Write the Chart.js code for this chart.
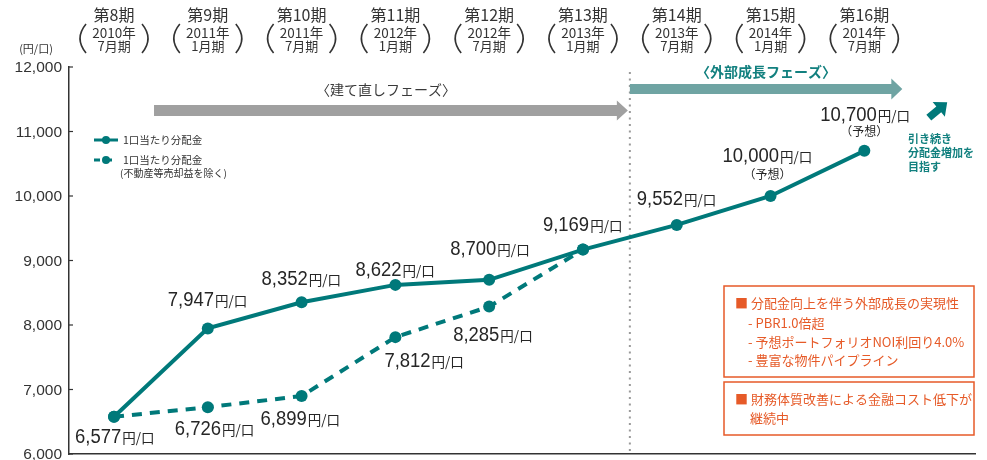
<!DOCTYPE html>
<html>
<head>
<meta charset="utf-8">
<script src="https://cdn.jsdelivr.net/npm/chart.js@4"></script>
<style>
html,body{margin:0;padding:0;background:#fff;}
#wrap{width:987px;height:460px;position:relative;}
</style>
</head>
<body>
<div id="wrap"><canvas id="c" width="987" height="460"></canvas></div>
<script>
// ---- data ----
const periods = ['第8期','第9期','第10期','第11期','第12期','第13期','第14期','第15期','第16期'];
const fiscalYears = ['2010年','2011年','2011年','2012年','2012年','2013年','2013年','2014年','2014年'];
const fiscalMonths = ['7月期','1月期','7月期','1月期','7月期','1月期','7月期','1月期','7月期'];
const dpu = [6577, 7947, 8352, 8622, 8700, 9169, 9552, 10000, 10700];
const dpuExSales = [6577, 6726, 6899, 7812, 8285, 9169];
const isForecast = [false, false, false, false, false, false, false, true, true];
const yTickValues = [6000, 7000, 8000, 9000, 10000, 11000, 12000];
const seriesNames = ['1口当たり分配金', '1口当たり分配金'];
const seriesNote = '(不動産等売却益を除く)';
const phaseNames = ['〈建て直しフェーズ〉', '〈外部成長フェーズ〉'];
const goalLines = ['引き続き', '分配金増加を', '目指す'];
const box1Lines = ['■ 分配金向上を伴う外部成長の実現性', '- PBR1.0倍超', '- 予想ポートフォリオNOI利回り4.0%', '- 豊富な物件パイプライン'];
const box2Lines = ['■ 財務体質改善による金融コスト低下が', '継続中'];
const unitText = '円/口';
const forecastText = '（予想）';
const yUnit = '(円/口)';

// ---- styles / placement ----
const TEAL = '#00797a';
const TEAL_LIGHT = '#6fa4a3';
const TEAL_TEXT = '#12807f';
const GRAY_ARROW = '#a0a0a0';
const TXT = '#333333';
const ORANGE = '#e65a28';
const NUMFONT = '"Liberation Sans", Arial, sans-serif';
const JPFONT = '"Noto Sans CJK JP", sans-serif';
const solidOff = [[-39,26],[-40,-22],[-40,-17],[-40,-9],[-39,-25],[-40,-19],[-40,-20],[-48,-34],[-44,-30]];
const dashOff = [null,[-33,28],[-41,29],[-11,30],[-36,34],null];
const fcOff = {7:[-3,-22], 8:[0,-19]};

function fmt(v){ return v.toLocaleString('en-US'); }

function drawValue(ctx, x, y, v){
  ctx.save();
  ctx.fillStyle = '#262626';
  ctx.textAlign = 'left';
  ctx.textBaseline = 'alphabetic';
  ctx.font = '20.5px ' + NUMFONT;
  const s = fmt(v);
  const w = ctx.measureText(s).width * 0.9;
  ctx.translate(x, y);
  ctx.scale(0.9, 1);
  ctx.fillText(s, 0, 0);
  ctx.restore();
  ctx.save();
  ctx.fillStyle = '#262626';
  ctx.font = '13.5px ' + JPFONT;
  ctx.textAlign = 'left';
  ctx.textBaseline = 'alphabetic';
  ctx.fillText(unitText, x + w + 1, y);
  ctx.restore();
}

function arrow(ctx, x0, x1, cy, barH, headH, headL, color){
  ctx.save();
  ctx.fillStyle = color;
  ctx.beginPath();
  ctx.moveTo(x0, cy - barH/2);
  ctx.lineTo(x1 - headL, cy - barH/2);
  ctx.lineTo(x1 - headL, cy - headH/2);
  ctx.lineTo(x1, cy);
  ctx.lineTo(x1 - headL, cy + headH/2);
  ctx.lineTo(x1 - headL, cy + barH/2);
  ctx.lineTo(x0, cy + barH/2);
  ctx.closePath();
  ctx.fill();
  ctx.restore();
}

const overlay = {
  id: 'overlay',
  beforeDatasetsDraw(chart){
    const ctx = chart.ctx, xs = chart.scales.x, ys = chart.scales.y;
    const area = chart.chartArea;
    const divX = xs.getPixelForValue(5.5);
    ctx.save();
    ctx.strokeStyle = '#9a9a9a';
    ctx.lineWidth = 2;
    ctx.setLineDash([2, 4.5]);
    ctx.beginPath();
    ctx.moveTo(divX, 72);
    ctx.lineTo(divX, area.bottom);
    ctx.stroke();
    ctx.restore();
    ctx.save();
    ctx.strokeStyle = TXT;
    ctx.lineWidth = 1.2;
    ctx.fillStyle = TXT;
    ctx.font = '15.5px ' + NUMFONT;
    ctx.textAlign = 'right';
    ctx.textBaseline = 'middle';
    yTickValues.forEach(v => {
      const y = ys.getPixelForValue(v);
      ctx.beginPath();
      ctx.moveTo(area.left, y);
      ctx.lineTo(area.left + 4, y);
      ctx.stroke();
      ctx.fillText(fmt(v), area.left - 7, y + 1);
    });
    ctx.restore();
  },
  afterDraw(chart){
    const ctx = chart.ctx, xs = chart.scales.x, ys = chart.scales.y;
    const divX = xs.getPixelForValue(5.5);

    periods.forEach((p, i) => {
      const cx = xs.getPixelForValue(i);
      ctx.save();
      ctx.fillStyle = TXT;
      ctx.textAlign = 'center';
      ctx.textBaseline = 'middle';
      ctx.font = '16px ' + JPFONT;
      ctx.fillText(p, cx, 15);
      ctx.font = '13.5px ' + JPFONT;
      ctx.fillText(fiscalYears[i], cx, 33);
      ctx.font = '13px ' + JPFONT;
      ctx.fillText(fiscalMonths[i], cx, 46);
      ctx.strokeStyle = TXT;
      ctx.lineWidth = 1.6;
      ctx.beginPath();
      ctx.moveTo(cx - 28, 24);
      ctx.quadraticCurveTo(cx - 40, 38.5, cx - 28, 53);
      ctx.moveTo(cx + 28, 24);
      ctx.quadraticCurveTo(cx + 40, 38.5, cx + 28, 53);
      ctx.stroke();
      ctx.restore();
    });

    ctx.save();
    ctx.fillStyle = TXT;
    ctx.font = '11px ' + JPFONT;
    ctx.textAlign = 'center';
    ctx.textBaseline = 'middle';
    ctx.fillText(yUnit, 36, 49);
    ctx.restore();

    const x0 = xs.getPixelForValue(0);
    arrow(ctx, x0 + 40, divX - 2, 110.5, 11, 20, 11, GRAY_ARROW);
    arrow(ctx, divX, xs.getPixelForValue(8) + 38, 89, 10, 21, 11, TEAL_LIGHT);
    ctx.save();
    ctx.textAlign = 'center';
    ctx.textBaseline = 'middle';
    ctx.font = '14px ' + JPFONT;
    ctx.fillStyle = '#3a3a3a';
    ctx.fillText(phaseNames[0], 386, 90);
    ctx.fillStyle = TEAL_TEXT;
    ctx.font = 'bold 14px ' + JPFONT;
    ctx.fillText(phaseNames[1], 766, 72);
    ctx.restore();

    ctx.save();
    ctx.strokeStyle = TEAL;
    ctx.fillStyle = TEAL;
    ctx.lineWidth = 3;
    ctx.beginPath(); ctx.moveTo(94, 140); ctx.lineTo(118, 140); ctx.stroke();
    ctx.beginPath(); ctx.arc(106, 140, 4, 0, Math.PI*2); ctx.fill();
    ctx.setLineDash([6, 6]);
    ctx.beginPath(); ctx.moveTo(94, 160); ctx.lineTo(118, 160); ctx.stroke();
    ctx.setLineDash([]);
    ctx.beginPath(); ctx.arc(106, 160, 4, 0, Math.PI*2); ctx.fill();
    ctx.fillStyle = TXT;
    ctx.font = '10.5px ' + JPFONT;
    ctx.textAlign = 'left';
    ctx.textBaseline = 'middle';
    ctx.fillText(seriesNames[0], 123, 140);
    ctx.fillText(seriesNames[1], 123, 160);
    ctx.font = '10px ' + JPFONT;
    ctx.fillText(seriesNote, 120, 173);
    ctx.restore();

    dpu.forEach((v, i) => {
      const px = xs.getPixelForValue(i), py = ys.getPixelForValue(v);
      drawValue(ctx, px + solidOff[i][0], py + solidOff[i][1], v);
      if (isForecast[i]) {
        ctx.save();
        ctx.fillStyle = '#262626';
        ctx.font = '12px ' + JPFONT;
        ctx.textAlign = 'center';
        ctx.textBaseline = 'middle';
        ctx.fillText(forecastText, px + fcOff[i][0], py + fcOff[i][1]);
        ctx.restore();
      }
    });
    dpuExSales.forEach((v, i) => {
      if (!dashOff[i]) return;
      const px = xs.getPixelForValue(i), py = ys.getPixelForValue(v);
      drawValue(ctx, px + dashOff[i][0], py + dashOff[i][1], v);
    });

    ctx.save();
    ctx.translate(938, 110);
    ctx.rotate(-40 * Math.PI / 180);
    ctx.fillStyle = TEAL;
    ctx.beginPath();
    ctx.moveTo(-12, -3.8); ctx.lineTo(1, -3.8); ctx.lineTo(1, -9.5);
    ctx.lineTo(12, 0); ctx.lineTo(1, 9.5); ctx.lineTo(1, 3.8); ctx.lineTo(-12, 3.8);
    ctx.closePath(); ctx.fill();
    ctx.restore();
    ctx.save();
    ctx.fillStyle = TEAL_TEXT;
    ctx.font = 'bold 11px ' + JPFONT;
    ctx.textAlign = 'left';
    ctx.textBaseline = 'middle';
    goalLines.forEach((t, k) => ctx.fillText(t, 908, 139 + k * 14));
    ctx.restore();

    ctx.save();
    ctx.strokeStyle = ORANGE;
    ctx.lineWidth = 1.5;
    ctx.fillStyle = '#fff';
    ctx.fillRect(724, 286, 250, 91);
    ctx.strokeRect(724, 286, 250, 91);
    ctx.fillRect(724, 382, 250, 53);
    ctx.strokeRect(724, 382, 250, 53);
    ctx.fillStyle = ORANGE;
    ctx.font = '13px ' + JPFONT;
    ctx.textAlign = 'left';
    ctx.textBaseline = 'middle';
    ctx.fillText(box1Lines[0], 735, 303);
    ctx.fillText(box1Lines[1], 748, 323);
    ctx.fillText(box1Lines[2], 748, 342);
    ctx.fillText(box1Lines[3], 748, 360);
    ctx.fillText(box2Lines[0], 735, 399);
    ctx.fillText(box2Lines[1], 750, 418);
    ctx.restore();
  }
};

new Chart(document.getElementById('c'), {
  type: 'line',
  data: {
    datasets: [
      {
        label: seriesNames[0],
        data: dpu.map((v, i) => ({x: i, y: v})),
        borderColor: TEAL,
        backgroundColor: TEAL,
        borderWidth: 4,
        pointRadius: 6,
        pointBorderWidth: 0,
        pointBackgroundColor: TEAL,
        tension: 0,
        order: 1
      },
      {
        label: seriesNames[1] + seriesNote,
        data: dpuExSales.map((v, i) => ({x: i, y: v})),
        borderColor: TEAL,
        backgroundColor: TEAL,
        borderWidth: 4,
        borderDash: [10, 8],
        pointRadius: 6,
        pointBorderWidth: 0,
        pointBackgroundColor: TEAL,
        tension: 0,
        order: 2
      }
    ]
  },
  options: {
    responsive: false,
    animation: false,
    devicePixelRatio: 1,
    layout: {padding: {top: 67, right: 12, bottom: 0, left: 0}},
    plugins: {legend: {display: false}, tooltip: {enabled: false}},
    scales: {
      x: {
        type: 'linear',
        min: -0.48,
        max: 9.18,
        ticks: {display: false},
        grid: {display: false, drawTicks: false},
        border: {display: true, color: TXT, width: 1.5},
        afterFit(s){ s.height = 0; }
      },
      y: {
        min: 6000,
        max: 12000,
        ticks: {display: false, stepSize: 1000},
        grid: {display: false, drawTicks: false},
        border: {display: true, color: TXT, width: 1.5},
        afterFit(s){ s.width = 69; }
      }
    }
  },
  plugins: [overlay]
});
</script>
</body>
</html>
